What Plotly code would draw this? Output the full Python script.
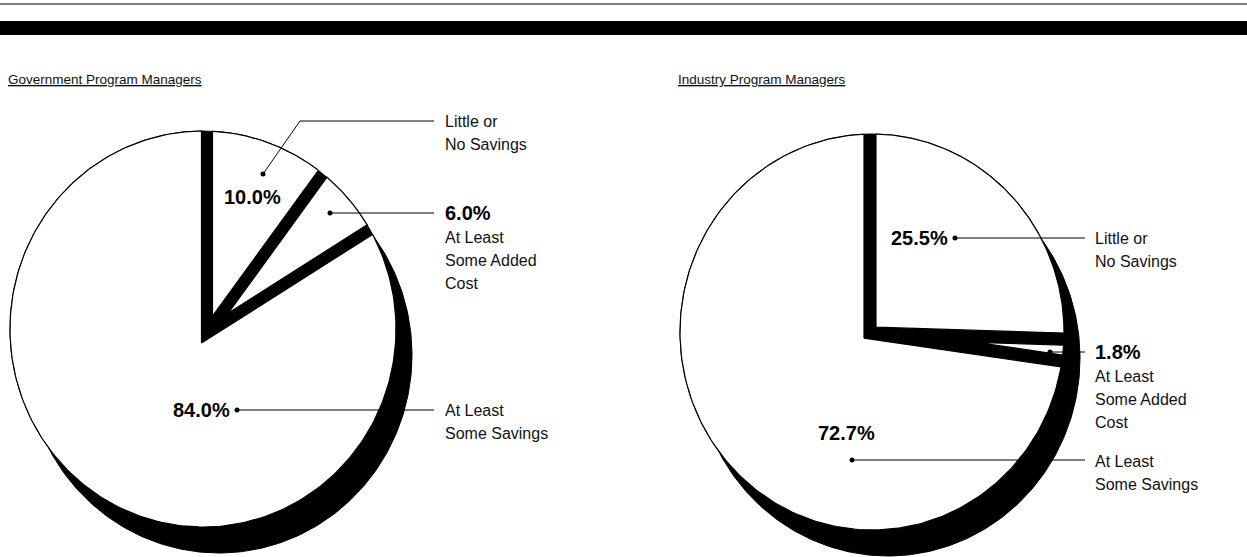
import numpy as np
import plotly.graph_objects as go

W, H = 1247, 557

# ---- data -------------------------------------------------------------
panel_titles = ["Government Program Managers", "Industry Program Managers"]
gov_values = [10.0, 6.0, 84.0]
ind_values = [25.5, 1.8, 72.7]
slice_labels = [
    ["Little or", "No Savings"],
    ["At Least", "Some Added", "Cost"],
    ["At Least", "Some Savings"],
]

# ---- layout of the two pies (pixel space) ------------------------------
# (cx, cy, rx, ry): outline of the disc; (vx, vy): point where the wedges meet
pies = [
    dict(values=gov_values, cx=203, cy=329, rx=193, ry=198, vx=207, vy=333, gap=11,
         callouts=[
             dict(dot=(263, 174), elbow=(300, 121), end=434, tx=443, ty=121,
                  pct=(252, 197, "center"), pct_outside=False),
             dict(dot=(330, 213), elbow=None, end=434, tx=443, ty=213,
                  pct=None, pct_outside=True),
             dict(dot=(237, 410), elbow=None, end=434, tx=443, ty=410,
                  pct=(232, 410, "right"), pct_outside=False),
         ],
         title_x=6),
    dict(values=ind_values, cx=872, cy=332, rx=192, ry=198, vx=870, vy=333, gap=12,
         callouts=[
             dict(dot=(955, 238), elbow=None, end=1085, tx=1093, ty=238,
                  pct=(950, 238, "right"), pct_outside=False),
             dict(dot=(1050, 352), elbow=None, end=1085, tx=1093, ty=352,
                  pct=None, pct_outside=True),
             dict(dot=(852, 460), elbow=None, end=1085, tx=1093, ty=461,
                  pct=(846, 433, "center"), pct_outside=False),
         ],
         title_x=676),
]
SHADOW = (16, 26)
LINE_GAP = 23
FAMILY = "Liberation Sans, Arial, sans-serif"
TEXT_FONT = dict(family=FAMILY, size=16, color="#111")
PCT_FONT = dict(family=FAMILY, size=20, color="#000")


def unit(v):
    v = np.asarray(v, float)
    return v / np.hypot(*v)


def ellipse_xy(cx, cy, rx, ry, t):
    return cx + rx * np.sin(t), cy - ry * np.cos(t)


def hit_ellipse(p, u, cx, cy, rx, ry):
    dx, dy = p[0] - cx, p[1] - cy
    A = (u[0] / rx) ** 2 + (u[1] / ry) ** 2
    B = 2 * (dx * u[0] / rx ** 2 + dy * u[1] / ry ** 2)
    C = (dx / rx) ** 2 + (dy / ry) ** 2 - 1
    t = (-B + np.sqrt(B * B - 4 * A * C)) / (2 * A)
    q = p + t * u
    return np.arctan2((q[0] - cx) / rx, -(q[1] - cy) / ry)


def slice_face(pie, a, b, h):
    """White face of one wedge, with its two straight edges pulled in by h."""
    cx, cy, rx, ry = pie["cx"], pie["cy"], pie["rx"], pie["ry"]
    ua = unit((np.sin(a), -np.cos(a)))
    ub = unit((np.sin(b), -np.cos(b)))
    na = np.array([-ua[1], ua[0]])
    nb = np.array([ub[1], -ub[0]])
    d = np.linalg.solve(np.vstack([na, nb]), [h, h])
    p = np.array([pie["vx"], pie["vy"]], float) + d
    ta = hit_ellipse(p, ua, cx, cy, rx, ry)
    tb = hit_ellipse(p, ub, cx, cy, rx, ry)
    while tb <= ta:
        tb += 2 * np.pi
    t = np.linspace(ta, tb, 240)
    ex, ey = ellipse_xy(cx, cy, rx, ry, t)
    xs = np.concatenate([[p[0]], ex, [p[0]]])
    ys = np.concatenate([[p[1]], ey, [p[1]]])
    return xs, ys


fig = go.Figure()
annotations = []
full = np.linspace(0, 2 * np.pi, 361)

for pie in pies:
    cx, cy, rx, ry = pie["cx"], pie["cy"], pie["rx"], pie["ry"]
    vals = np.array(pie["values"], float)

    # drop shadow / depth of the disc
    sx, sy = ellipse_xy(cx + SHADOW[0], cy + SHADOW[1], rx, ry, full)
    fig.add_trace(go.Scatter(x=sx, y=sy, fill="toself", fillcolor="black",
                             line=dict(color="black", width=1), mode="lines",
                             hoverinfo="skip", showlegend=False))
    # black disc under the faces: shows through as the separators
    bx, by = ellipse_xy(cx, cy, rx, ry, full)
    fig.add_trace(go.Scatter(x=bx, y=by, fill="toself", fillcolor="black",
                             line=dict(color="black", width=1), mode="lines",
                             hoverinfo="skip", showlegend=False))

    # slice faces, clockwise from twelve o'clock
    edges = np.concatenate([[0], np.cumsum(vals)]) / vals.sum() * 2 * np.pi
    for i in range(len(vals)):
        xs, ys = slice_face(pie, edges[i], edges[i + 1], pie["gap"] / 2)
        fig.add_trace(go.Scatter(x=xs, y=ys, fill="toself", fillcolor="white",
                                 line=dict(color="black", width=1.2), mode="lines",
                                 hoverinfo="skip", showlegend=False))

    # callouts
    for v, lines, c in zip(vals, slice_labels, pie["callouts"]):
        lx = [c["dot"][0]]
        ly = [c["dot"][1]]
        if c["elbow"] is not None:
            lx.append(c["elbow"][0])
            ly.append(c["elbow"][1])
        lx.append(c["end"])
        ly.append(ly[-1])
        fig.add_trace(go.Scatter(x=lx, y=ly, mode="lines",
                                 line=dict(color="black", width=1),
                                 hoverinfo="skip", showlegend=False))
        fig.add_trace(go.Scatter(x=[c["dot"][0]], y=[c["dot"][1]], mode="markers",
                                 marker=dict(color="black", size=5),
                                 hoverinfo="skip", showlegend=False))
        pct_text = f"<b>{v:.1f}%</b>"
        y0 = c["ty"]
        if c["pct_outside"]:
            annotations.append(dict(x=c["tx"], y=y0, text=pct_text, xanchor="left",
                                    yanchor="middle", showarrow=False, font=PCT_FONT))
            y0 += LINE_GAP + 1
        else:
            px, py, anc = c["pct"]
            annotations.append(dict(x=px, y=py, text=pct_text, xanchor=anc,
                                    yanchor="middle", showarrow=False, font=PCT_FONT))
        for k, ln in enumerate(lines):
            annotations.append(dict(x=c["tx"], y=y0 + k * LINE_GAP, text=ln,
                                    xanchor="left", yanchor="middle",
                                    showarrow=False, font=TEXT_FONT))

# panel titles (underlined)
for pie, title in zip(pies, panel_titles):
    annotations.append(dict(x=pie["title_x"], y=79, text=f"<u>{title}</u>",
                            xanchor="left", yanchor="middle", showarrow=False,
                            font=dict(family=FAMILY, size=13.5, color="#111")))

shapes = [
    dict(type="line", x0=0, x1=W, y0=4, y1=4, line=dict(color="black", width=1)),
    dict(type="rect", x0=0, x1=W, y0=21, y1=35, fillcolor="black",
         line=dict(width=0)),
]

fig.update_layout(
    width=W, height=H,
    margin=dict(l=0, r=0, t=0, b=0),
    paper_bgcolor="white", plot_bgcolor="white",
    xaxis=dict(range=[0, W], visible=False, fixedrange=True),
    yaxis=dict(range=[H, 0], visible=False, fixedrange=True),
    annotations=annotations,
    shapes=shapes,
    showlegend=False,
)

fig.write_html("out.html")
